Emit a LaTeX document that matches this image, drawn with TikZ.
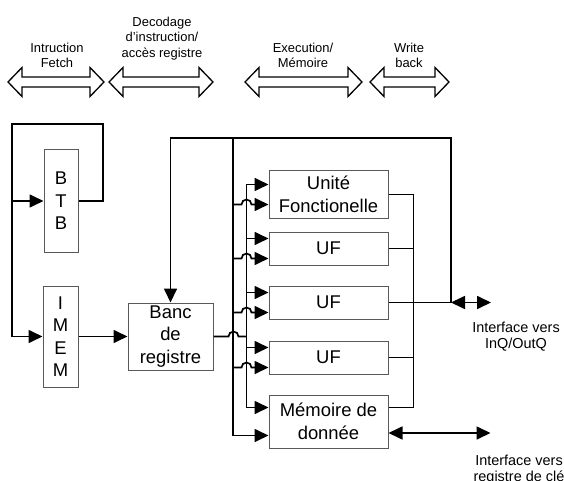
\documentclass[tikz,border=0pt]{standalone}
\usepackage{fontspec}
\setmainfont{Liberation Sans}
\usetikzlibrary{arrows.meta}

\tikzset{
  bloc/.style={draw=black!65, line width=1bp, inner sep=0pt, align=center, font=\fontsize{18.5}{22.5}\selectfont},
  wire/.style={line width=1.7bp},
  thinwire/.style={line width=1.2bp},
  phase/.style={line width=1.3bp, line join=miter},
  note/.style={align=center, font=\fontsize{13}{15.5}\selectfont},
  iface/.style={align=center, font=\fontsize{14.5}{16.5}\selectfont},
}

\begin{document}
\begin{tikzpicture}[x=1bp,y=-1bp,>={Triangle[length=14bp,width=13bp]}]
        \useasboundingbox (0,0) rectangle (564,481);
        % phases du pipeline
        \node[note] (fetch) at (57,55.5) {Intruction\\Fetch};
        \node[note] (decode) at (162,38.5) {Decodage\\d’instruction/\\accès registre};
        \node[note] (exec) at (303,55.5) {Execution/\\Mémoire};
        \node[note] (wback) at (409,55.5) {Write\\back};
        \foreach \xa/\xb in {8/104,109/213,245/362,370/449}
          \draw[phase] (\xa,82) -- ++(14,-14.5) -- ++(0,9.5) -- ({\xb-14},77) -- ++(0,-9.5) -- (\xb,82)
            -- ++(-14,14.5) -- ++(0,-9.5) -- ({\xa+14},87) -- ++(0,9.5) -- cycle;

        % blocs
        \node[bloc, minimum width=34bp, minimum height=102bp] (btb) at (61,201) {B\\T\\B};
        \node[bloc, minimum width=35bp, minimum height=101bp] (imem) at (60.5,336.5) {I\\M\\E\\M};
        \node[bloc, minimum width=85bp, minimum height=67bp] (banc) at (170.5,336.5) {Banc\\de\\registre};
        \node[bloc, minimum width=119bp, minimum height=47bp] (ufc) at (328.5,194.5) {Unité\\Fonctionelle};
        \node[bloc, minimum width=119bp, minimum height=33bp] (uf1) at (328.5,248.5) {UF};
        \node[bloc, minimum width=119bp, minimum height=33bp] (uf2) at (328.5,302.5) {UF};
        \node[bloc, minimum width=119bp, minimum height=33bp] (uf3) at (328.5,357.5) {UF};
        \node[bloc, minimum width=119bp, minimum height=53bp] (dmem) at (328.5,421.5) {Mémoire de\\donnée};

        \coordinate (loopr) at (103,124);
        \coordinate (loopl) at (12,124);
        \coordinate (busa) at (233,138);
        \coordinate (busb) at ([xshift=-22bp]ufc.west);
        \coordinate (wbtop) at (451,138);

        % fetch
        \draw[wire,->] (btb.east) -| (loopr) -| (loopl |- imem.west) -- (imem.west);
        \draw[wire,->] (loopl |- btb.west) -- (btb.west);
        \draw[wire,->] (imem.east) -- (banc.west);

        % write back
        \draw[wire,->] (uf2.east) -- (uf2.east -| wbtop) -- (wbtop) -- (wbtop -| banc.north) -- (banc.north);
        \draw[wire,<->] (uf2.east -| wbtop) -- ++(40,0);
        \node[iface] (inq) at (516,336.5) {Interface vers\\InQ/OutQ};

        % bus d'operandes
        \draw[wire,->] (busa) |- ([yshift=-14bp]dmem.west);
        \draw[wire] ([yshift=10bp]busb) -- ([xshift=-22bp,yshift=14bp]dmem.west);
        \foreach \b in {ufc,uf1,uf2,uf3}{
          \draw[wire,->] ([xshift=-22bp,yshift=10bp]\b.west) -- ([yshift=10bp]\b.west);
          \draw[wire,->] ([xshift=-36bp,yshift=-10bp]\b.west) -- ++(9,0) arc[start angle=180,end angle=0,radius=5bp]
            -- ([yshift=-10bp]\b.west);
        }
        \draw[wire,->] ([xshift=-22bp,yshift=14bp]dmem.west) -- ([yshift=14bp]dmem.west);
        \draw[wire] (banc.east) -- ++(15,0) arc[start angle=180,end angle=0,radius=5bp] -- (banc.east -| busb);

        % resultats
        \draw[thinwire] (ufc.east) -| ([xshift=25bp,yshift=14bp]dmem.east) -- ([yshift=14bp]dmem.east);
        \foreach \b in {uf1,uf3}
          \draw[thinwire] (\b.east) -- ++(25,0);

        \draw[wire,<->] ([yshift=-11.5bp]dmem.east) -- ++(102,0);
        \node[iface] (cle) at (519,469.5) {Interface vers\\registre de clé};
\end{tikzpicture}
\end{document}
